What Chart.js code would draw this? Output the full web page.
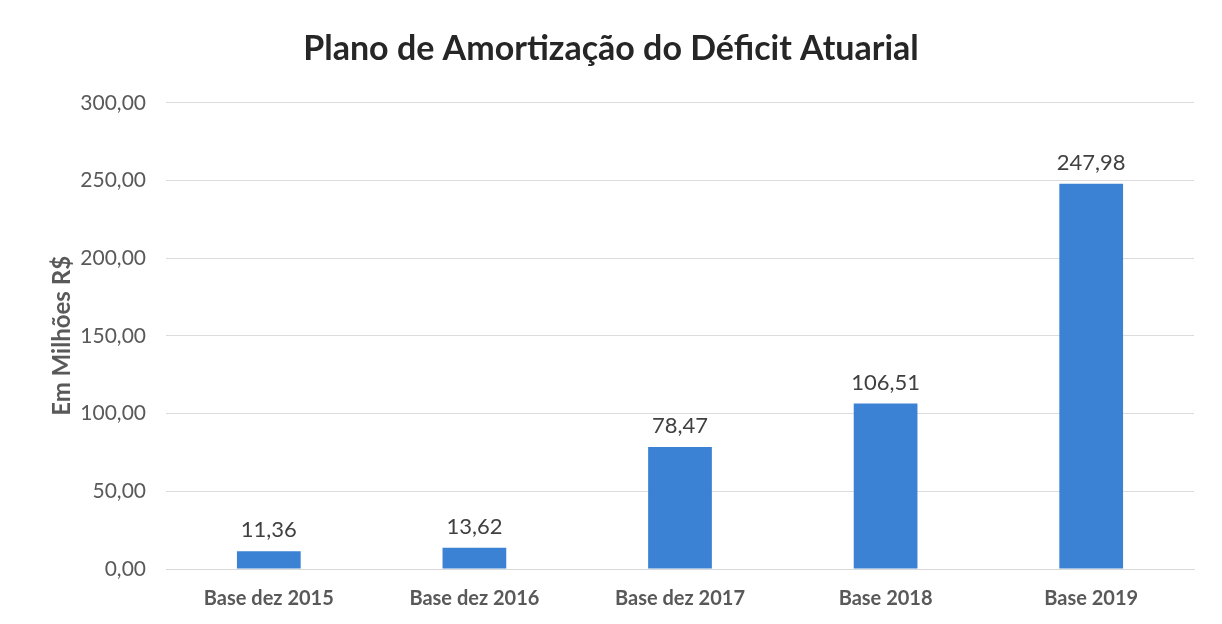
<!DOCTYPE html>
<html>
<head>
<meta charset="utf-8">
<script src="https://cdn.jsdelivr.net/npm/chart.js@4"></script>
<style>
  html, body { margin: 0; padding: 0; background: #ffffff; }
  #wrap { width: 1222px; height: 624px; }
</style>
</head>
<body>
<div id="wrap"><canvas id="deficitChart" width="1222" height="624"></canvas></div>
<script>
const categories = ['Base dez 2015', 'Base dez 2016', 'Base dez 2017', 'Base 2018', 'Base 2019'];
const deficitValues = [11.36, 13.62, 78.47, 106.51, 247.98];
const yTicks = [0, 50, 100, 150, 200, 250, 300];

const fontFamily = 'Lato, "Open Sans", sans-serif';

function formatBR(v) {
    return v.toFixed(2).replace('.', ',');
}

// draws the value above each bar
const barValueLabels = {
    id: 'barValueLabels',
    afterDatasetsDraw(chart) {
        const ctx = chart.ctx;
        const meta = chart.getDatasetMeta(0);
        ctx.save();
        ctx.font = '22px ' + fontFamily;
        ctx.fillStyle = '#404040';
        ctx.textAlign = 'center';
        ctx.textBaseline = 'bottom';
        meta.data.forEach((bar, i) => {
            ctx.fillText(formatBR(deficitValues[i]), bar.x, bar.y - 10);
        });
        ctx.restore();
    }
};

const ctx = document.getElementById('deficitChart').getContext('2d');
new Chart(ctx, {
    type: 'bar',
    data: {
        labels: categories,
        datasets: [{
            data: deficitValues,
            backgroundColor: '#3b82d4',
            barPercentage: 0.31,
            categoryPercentage: 1.0
        }]
    },
    options: {
        responsive: false,
        animation: false,
        layout: { padding: 0 },
        plugins: {
            legend: { display: false },
            tooltip: { enabled: false },
            title: {
                display: true,
                text: 'Plano de Amortização do Déficit Atuarial',
                color: '#262626',
                font: { family: fontFamily, size: 34, weight: 'bold' },
                padding: { top: 29, bottom: 33 }
            }
        },
        scales: {
            x: {
                grid: { display: false },
                border: { display: true, color: '#d9d9d9' },
                ticks: {
                    color: '#595959',
                    font: { family: fontFamily, size: 20, weight: 'bold' },
                    padding: 10
                },
                afterFit(scale) { scale.height = 55; }
            },
            y: {
                min: 0,
                max: 300,
                afterBuildTicks(scale) {
                    scale.ticks = yTicks.map(v => ({ value: v }));
                },
                grid: { color: '#dcdcdc', drawTicks: false },
                border: { display: false },
                ticks: {
                    color: '#595959',
                    font: { family: fontFamily, size: 21 },
                    padding: 20,
                    callback: v => formatBR(v)
                },
                title: {
                    display: true,
                    text: 'Em Milhões R$',
                    color: '#595959',
                    font: { family: fontFamily, size: 24, weight: 'bold' },
                    padding: { top: 48, bottom: 0 }
                },
                afterFit(scale) { scale.width = 166; }
            },
            // empty right margin so the title centres on the whole canvas
            yRight: {
                position: 'right',
                min: 0,
                max: 300,
                grid: { display: false },
                border: { display: false },
                ticks: { display: false },
                afterFit(scale) { scale.width = 28; }
            }
        }
    },
    plugins: [barValueLabels]
});
</script>
</body>
</html>
